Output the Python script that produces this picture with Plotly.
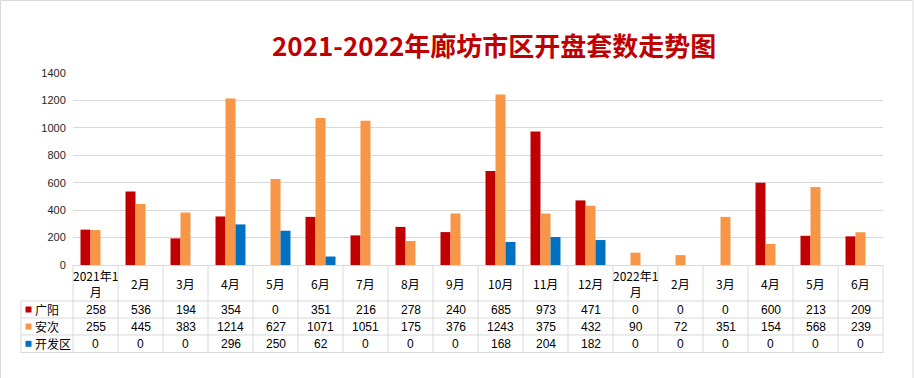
import plotly.graph_objects as go

categories = ["2021年1月", "2021年2月", "2021年3月", "2021年4月", "2021年5月", "2021年6月",
              "2021年7月", "2021年8月", "2021年9月", "2021年10月", "2021年11月", "2021年12月",
              "2022年1月", "2022年2月", "2022年3月", "2022年4月", "2022年5月", "2022年6月"]
header_labels = ["2021年1<br>月", "2月", "3月", "4月", "5月", "6月", "7月", "8月", "9月",
                 "10月", "11月", "12月", "2022年1<br>月", "2月", "3月", "4月", "5月", "6月"]
series_names = ["广阳", "安次", "开发区"]
guangyang = [258, 536, 194, 354, 0, 351, 216, 278, 240, 685, 973, 471, 0, 0, 0, 600, 213, 209]
anci = [255, 445, 383, 1214, 627, 1071, 1051, 175, 376, 1243, 375, 432, 90, 72, 351, 154, 568, 239]
kaifaqu = [0, 0, 0, 296, 250, 62, 0, 0, 0, 168, 204, 182, 0, 0, 0, 0, 0, 0]
y_ticks = [0, 200, 400, 600, 800, 1000, 1200, 1400]
title_text = "2021-2022年廊坊市区开盘套数走势图"

colors = ["#C00000", "#F79646", "#0070C0"]
all_series = [guangyang, anci, kaifaqu]

W, H = 914, 378
L, R, T, B = 73, 31, 73, 113
PW, PH = W - L - R, H - T - B
y0px = H - B  # 265


def py(p):
    return (y0px - p) / PH


def px(p):
    return (p - L) / PW


fig = go.Figure()
for name, vals, c in zip(series_names, all_series, colors):
    fig.add_trace(go.Bar(x=categories, y=vals, name=name, marker=dict(color=c, line=dict(width=0)),
                         hoverinfo="x+y+name"))

grid = "#D9D9D9"
shapes = []
row_lines = [301, 318, 335, 352.5]
for p in row_lines:
    shapes.append(dict(type="line", xref="paper", yref="paper", x0=px(21), x1=1, y0=py(p), y1=py(p),
                       line=dict(color=grid, width=1)))
shapes.append(dict(type="line", xref="paper", yref="paper", x0=px(21), x1=px(21), y0=py(301), y1=py(352.5),
                   line=dict(color=grid, width=1)))
n = len(categories)
for k in range(n + 1):
    xx = k / n
    shapes.append(dict(type="line", xref="paper", yref="paper", x0=xx, x1=xx, y0=0, y1=py(352.5),
                       line=dict(color=grid, width=1)))
# outer border
shapes.append(dict(type="line", xref="paper", yref="paper", x0=px(0.5), x1=px(913), y0=py(0.5), y1=py(0.5),
                   line=dict(color=grid, width=1)))
shapes.append(dict(type="line", xref="paper", yref="paper", x0=px(0.5), x1=px(0.5), y0=py(0.5), y1=py(378),
                   line=dict(color=grid, width=1)))
shapes.append(dict(type="line", xref="paper", yref="paper", x0=px(913), x1=px(913), y0=py(0.5), y1=py(378),
                   line=dict(color=grid, width=1)))
# legend keys
row_centers = [309.5, 326.5, 343.8]
for c, yc in zip(colors, row_centers):
    shapes.append(dict(type="rect", xref="paper", yref="paper", x0=px(25.5), x1=px(31.5),
                       y0=py(yc + 3), y1=py(yc - 3), fillcolor=c, line=dict(width=0)))

annotations = []
num_font = dict(family="Liberation Sans Narrow, Liberation Sans, sans-serif", size=12, color="#000000")
cjk_font = dict(family="Noto Sans CJK SC, sans-serif", size=12, color="#000000")
for cat, lab in zip(categories, header_labels):
    annotations.append(dict(x=cat, xref="x", y=py(283), yref="paper", text=lab, showarrow=False,
                            xanchor="center", yanchor="middle", font=cjk_font))
for vals, yc in zip(all_series, row_centers):
    for cat, v in zip(categories, vals):
        annotations.append(dict(x=cat, xref="x", y=py(yc), yref="paper", text=str(v), showarrow=False,
                                xanchor="center", yanchor="middle", font=num_font))
for name, yc in zip(series_names, row_centers):
    annotations.append(dict(x=px(33), xref="paper", y=py(yc), yref="paper", text=name, showarrow=False,
                            xanchor="left", yanchor="middle", font=cjk_font))
annotations.append(dict(x=px(494), xref="paper", y=py(44.5), yref="paper", text="<b>" + title_text + "</b>",
                        showarrow=False, xanchor="center", yanchor="middle",
                        font=dict(family="Noto Sans CJK SC, sans-serif", size=26, color="#C00000")))

fig.update_layout(
    width=W, height=H,
    margin=dict(l=L, r=R, t=T, b=B, pad=0),
    paper_bgcolor="white", plot_bgcolor="white",
    barmode="group", bargap=1 / 3, bargroupgap=0,
    showlegend=False,
    shapes=shapes, annotations=annotations,
    xaxis=dict(type="category", categoryorder="array", categoryarray=categories,
               range=[-0.5, n - 0.5], showticklabels=False, showgrid=False,
               showline=True, linecolor=grid, linewidth=1, ticks="", zeroline=False, fixedrange=True),
    yaxis=dict(range=[0, 1400], tickvals=y_ticks, ticktext=[str(v) for v in y_ticks],
               showgrid=True, gridcolor=grid, gridwidth=1, zeroline=False, showline=False,
               ticks="outside", ticklen=4, tickcolor="rgba(0,0,0,0)",
               tickfont=dict(family="Liberation Sans, sans-serif", size=11, color="#262626"),
               fixedrange=True),
)

fig.write_html("out.html", config={"displayModeBar": False},
               post_script="document.body.style.margin='0';document.body.style.overflow='hidden';")
